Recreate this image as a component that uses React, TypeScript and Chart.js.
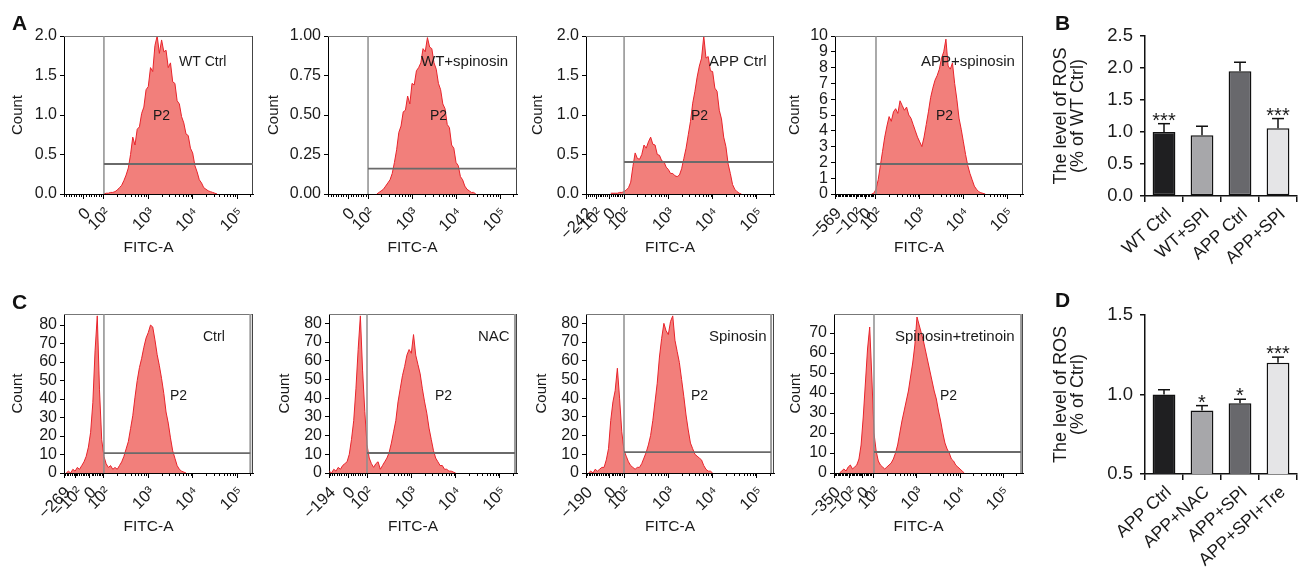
import React, { useEffect, useRef } from 'react';
import { Chart, registerables } from 'chart.js';

Chart.register(...registerables);

const FONT = "'Liberation Sans', Arial, Helvetica, sans-serif";
const TEXT = '#1a1a1a';

// FITC-A display units: 2 = 10², 3 = 10³, 4 = 10⁴, 5 = 10⁵ (bins of 0.05 unit)
const BIN = 0.05;
const GATE_X = 2;
const LOG_LABELS = ['10²', '10³', '10⁴', '10⁵'];
const LOG_TICKS = [2, 3, 4, 5];

// ---------- Panel A ----------
const A1_START = 2.0;
const A1_COUNTS = [0, 0.01, 0.01, 0.02, 0.02, 0.03, 0.05, 0.08, 0.11, 0.17, 0.24, 0.33, 0.5, 0.72, 0.62, 0.82, 0.85, 1.02, 1.1, 1.32, 1.36, 1.6, 1.55, 1.88, 2.0, 1.78, 1.95, 1.8, 1.82, 1.6, 1.66, 1.42, 1.4, 1.18, 1.14, 0.98, 0.9, 0.76, 0.74, 0.58, 0.52, 0.36, 0.28, 0.18, 0.14, 0.08, 0.06, 0.04, 0.03, 0.02, 0.01, 0];
const A1_TICKS = [1.55, ...LOG_TICKS];
const A1_TICK_LABELS = ['0', ...LOG_LABELS];

const A2_START = 2.2;
const A2_COUNTS = [0, 0.01, 0.02, 0.03, 0.05, 0.07, 0.09, 0.13, 0.2, 0.28, 0.39, 0.43, 0.52, 0.53, 0.62, 0.57, 0.7, 0.69, 0.78, 0.8, 0.83, 0.92, 0.9, 0.99, 0.93, 0.92, 0.83, 0.79, 0.7, 0.66, 0.57, 0.54, 0.44, 0.42, 0.31, 0.29, 0.2, 0.18, 0.11, 0.09, 0.05, 0.03, 0.02, 0.01, 0.01, 0];
const A2_TICKS = [1.55, ...LOG_TICKS];
const A2_TICK_LABELS = ['0', ...LOG_LABELS];

const A3_START = 1.7;
const A3_COUNTS = [0.01, 0.01, 0.01, 0.01, 0.02, 0.02, 0.03, 0.05, 0.08, 0.15, 0.35, 0.52, 0.45, 0.44, 0.5, 0.62, 0.58, 0.66, 0.72, 0.63, 0.62, 0.5, 0.49, 0.42, 0.41, 0.34, 0.31, 0.26, 0.26, 0.23, 0.22, 0.24, 0.32, 0.45, 0.58, 0.75, 0.92, 1.15, 1.3, 1.48, 1.62, 1.72, 2.0, 1.72, 1.74, 1.56, 1.55, 1.34, 1.3, 1.06, 0.95, 0.72, 0.6, 0.38, 0.26, 0.12, 0.06, 0.03, 0.01, 0];
const A3_TICKS = [1.14, 1.37, 1.66, ...LOG_TICKS];
const A3_TICK_LABELS = ['−242', '−10²', '0', ...LOG_LABELS];

const A4_START = 1.9;
const A4_COUNTS = [0, 0.05, 0.3, 0.9, 1.8, 2.7, 3.6, 4.3, 4.9, 4.6, 5.2, 5.4, 5.1, 5.9, 5.6, 5.3, 5.5, 5.0, 4.8, 4.4, 4.0, 3.6, 3.3, 3.0, 3.6, 4.4, 5.2, 6.1, 6.7, 7.2, 7.5, 7.9, 8.6, 9.0, 9.8, 8.1, 7.9, 8.3, 7.0, 6.0, 4.8, 4.1, 3.3, 2.5, 1.8, 1.3, 0.9, 0.5, 0.3, 0.15, 0.08, 0.04, 0];
const A4_TICKS = [1.062, 1.55, 1.75, ...LOG_TICKS];
const A4_TICK_LABELS = ['−569', '−10²', '0', ...LOG_LABELS];

// ---------- Panel C ----------
const C1_START = 1.15;
const C1_COUNTS = [0, 1, 0, 2, 1, 3, 2, 4, 6, 9, 14, 22, 38, 66, 85, 45, 18, 9, 5, 3, 4, 2, 3, 2, 4, 6, 9, 13, 17, 24, 31, 41, 50, 57, 62, 68, 73, 76, 80, 79, 72, 64, 58, 51, 43, 33, 27, 19, 12, 8, 4, 2, 1, 0.5, 0];
const C1_TICKS = [1.1, 1.37, 1.68, ...LOG_TICKS];
const C1_TICK_LABELS = ['−269', '−10²', '0', ...LOG_LABELS];

const C2_START = 1.15;
const C2_COUNTS = [1, 0, 2, 1, 3, 2, 4, 5, 6, 10, 18, 28, 45, 66, 84, 55, 33, 15, 8, 5, 3, 5, 6, 2, 4, 6, 8, 11, 16, 22, 28, 38, 45, 52, 57, 63, 66, 64, 74, 63, 58, 53, 45, 38, 32, 24, 18, 12, 8, 6, 4, 4, 2, 2, 1, 1, 0.5, 0];
const C2_TICKS = [1.142, 1.58, ...LOG_TICKS];
const C2_TICK_LABELS = ['−194', '0', ...LOG_LABELS];

const C3_START = 1.2;
const C3_COUNTS = [0, 1, 0, 2, 1, 2, 3, 3, 7, 13, 28, 38, 44, 56, 40, 22, 12, 9, 6, 4, 3, 2, 3, 3, 5, 8, 11, 15, 20, 28, 38, 48, 62, 72, 80, 76, 74, 81, 84, 71, 65, 59, 50, 41, 31, 23, 16, 13, 10, 9, 8, 7, 4, 2, 1, 1, 0];
const C3_TICKS = [1.142, 1.68, ...LOG_TICKS];
const C3_TICK_LABELS = ['−190', '0', ...LOG_LABELS];

const C4_START = 1.2;
const C4_COUNTS = [0, 1, 2, 1, 3, 4, 2, 3, 4, 7, 14, 28, 45, 62, 73, 48, 20, 11, 6, 4, 3, 2, 3, 4, 5, 7, 10, 14, 20, 26, 31, 36, 41, 48, 55, 64, 78, 74, 70, 66, 61, 56, 51, 46, 41, 37, 31, 26, 20, 15, 12, 10, 7, 6, 4, 3, 2, 1, 0];
const C4_TICKS = [1.07, 1.44, 1.74, ...LOG_TICKS];
const C4_TICK_LABELS = ['−350', '−10²', '0', ...LOG_LABELS];

// ---------- Panels B and D ----------
const B_LABELS = ['WT Ctrl', 'WT+SPI', 'APP Ctrl', 'APP+SPI'];
const B_VALUES = [1.0, 0.95, 1.95, 1.06];
const B_ERRORS = [0.13, 0.14, 0.14, 0.15];
const B_STARS = ['***', '', '', '***'];

const D_LABELS = ['APP Ctrl', 'APP+NAC', 'APP+SPI', 'APP+SPI+Tre'];
const D_VALUES = [1.0, 0.9, 0.945, 1.2];
const D_ERRORS = [0.03, 0.03, 0.025, 0.035];
const D_STARS = ['', '*', '*', '***'];

const BAR_COLORS = ['#1f1f21', '#a7a7aa', '#68686c', '#e5e5e7'];

type Box = { x: number; y: number; w: number; h: number };
type Area = { l: number; t: number; r: number; b: number };

type HistSpec = {
  canvas: Box;
  plot: Area;
  xMin: number;
  xMax: number;
  yMax: number;
  yStep: number;
  yDec: number;
  start: number;
  counts: number[];
  tickPos: number[];
  tickLabels: string[];
  zero: number;
  gateY: number;
  rightLine?: number;
  name: string;
  nameSize: number;
  nameAt: [number, number];
  p2At: [number, number];
};

const HISTS: HistSpec[] = [
  { canvas: { x: 9, y: 0, w: 251, h: 262 }, plot: { l: 64, t: 36, r: 253, b: 194 }, xMin: 1.1, xMax: 5.36, yMax: 2, yStep: 0.5, yDec: 1, start: A1_START, counts: A1_COUNTS, tickPos: A1_TICKS, tickLabels: A1_TICK_LABELS, zero: 1.55, gateY: 0.38, name: 'WT Ctrl', nameSize: 14, nameAt: [115, 26], p2At: [89, 80] },
  { canvas: { x: 265, y: 0, w: 260, h: 262 }, plot: { l: 328, t: 36, r: 517, b: 194 }, xMin: 1.09, xMax: 5.386, yMax: 1, yStep: 0.25, yDec: 2, start: A2_START, counts: A2_COUNTS, tickPos: A2_TICKS, tickLabels: A2_TICK_LABELS, zero: 1.55, gateY: 0.16, name: 'WT+spinosin', nameSize: 15, nameAt: [93, 26], p2At: [102, 80] },
  { canvas: { x: 529, y: 0, w: 251, h: 262 }, plot: { l: 586, t: 36, r: 774, b: 194 }, xMin: 1.14, xMax: 5.386, yMax: 2, yStep: 0.5, yDec: 1, start: A3_START, counts: A3_COUNTS, tickPos: A3_TICKS, tickLabels: A3_TICK_LABELS, zero: 1.66, gateY: 0.405, name: 'APP Ctrl', nameSize: 15, nameAt: [123, 26], p2At: [105, 80] },
  { canvas: { x: 786, y: 0, w: 244, h: 262 }, plot: { l: 835, t: 36, r: 1023, b: 194 }, xMin: 1.062, xMax: 5.364, yMax: 10, yStep: 1, yDec: 0, start: A4_START, counts: A4_COUNTS, tickPos: A4_TICKS, tickLabels: A4_TICK_LABELS, zero: 1.75, gateY: 1.9, name: 'APP+spinosin', nameSize: 15, nameAt: [86, 26], p2At: [101, 80] },
  { canvas: { x: 9, y: 280, w: 251, h: 260 }, plot: { l: 64, t: 314, r: 253, b: 473 }, xMin: 1.1, xMax: 5.36, yMax: 86, yStep: 10, yDec: 0, start: C1_START, counts: C1_COUNTS, tickPos: C1_TICKS, tickLabels: C1_TICK_LABELS, zero: 1.68, gateY: 10.8, rightLine: 5.3, name: 'Ctrl', nameSize: 14, nameAt: [139, 23], p2At: [106, 82] },
  { canvas: { x: 276, y: 280, w: 249, h: 260 }, plot: { l: 329, t: 314, r: 517, b: 473 }, xMin: 1.142, xMax: 5.386, yMax: 85, yStep: 10, yDec: 0, start: C2_START, counts: C2_COUNTS, tickPos: C2_TICKS, tickLabels: C2_TICK_LABELS, zero: 1.58, gateY: 10.7, rightLine: 5.34, name: 'NAC', nameSize: 15, nameAt: [149, 23], p2At: [106, 82] },
  { canvas: { x: 533, y: 280, w: 247, h: 260 }, plot: { l: 586, t: 314, r: 774, b: 473 }, xMin: 1.142, xMax: 5.386, yMax: 85, yStep: 10, yDec: 0, start: C3_START, counts: C3_COUNTS, tickPos: C3_TICKS, tickLabels: C3_TICK_LABELS, zero: 1.68, gateY: 11.2, rightLine: 5.32, name: 'Spinosin', nameSize: 15, nameAt: [123, 23], p2At: [105, 82] },
  { canvas: { x: 787, y: 280, w: 243, h: 260 }, plot: { l: 834, t: 314, r: 1023, b: 473 }, xMin: 1.07, xMax: 5.465, yMax: 79.5, yStep: 10, yDec: 0, start: C4_START, counts: C4_COUNTS, tickPos: C4_TICKS, tickLabels: C4_TICK_LABELS, zero: 1.74, gateY: 10.5, rightLine: 5.42, name: 'Spinosin+tretinoin', nameSize: 15, nameAt: [61, 23], p2At: [106, 82] },
];

type BarSpec = {
  canvas: Box;
  plot: Area;
  labels: string[];
  values: number[];
  errors: number[];
  stars: string[];
  yMin: number;
  yMax: number;
  yStep: number;
  title: string[];
};

const BARS: BarSpec[] = [
  { canvas: { x: 1053, y: 0, w: 250, h: 292 }, plot: { l: 1145, t: 36, r: 1297, b: 196 }, labels: B_LABELS, values: B_VALUES, errors: B_ERRORS, stars: B_STARS, yMin: 0, yMax: 2.5, yStep: 0.5, title: ['The level of ROS', '(% of WT Ctrl)'] },
  { canvas: { x: 1053, y: 290, w: 250, h: 289 }, plot: { l: 1145, t: 315, r: 1297, b: 474 }, labels: D_LABELS, values: D_VALUES, errors: D_ERRORS, stars: D_STARS, yMin: 0.5, yMax: 1.5, yStep: 0.5, title: ['The level of ROS', '(% of Ctrl)'] },
];

const LETTERS = [
  { t: 'A', x: 12, y: 12 },
  { t: 'B', x: 1055, y: 12 },
  { t: 'C', x: 12, y: 291 },
  { t: 'D', x: 1055, y: 289 },
];

function seg(ctx: CanvasRenderingContext2D, x1: number, y1: number, x2: number, y2: number) {
  ctx.beginPath();
  ctx.moveTo(x1, y1);
  ctx.lineTo(x2, y2);
  ctx.stroke();
}

function histPlugin(h: HistSpec) {
  return {
    id: 'histDecor',
    afterDatasetsDraw(chart: any) {
      const { ctx, chartArea: a, scales } = chart;
      const x = scales.x;
      const y = scales.y;
      ctx.save();
      ctx.strokeStyle = '#777';
      ctx.lineWidth = 1;
      seg(ctx, a.left, a.top + 0.5, a.right, a.top + 0.5);
      ctx.strokeStyle = '#444';
      seg(ctx, a.right - 0.5, a.top, a.right - 0.5, a.bottom);
      const gx = x.getPixelForValue(GATE_X);
      ctx.strokeStyle = '#8e8e8e';
      ctx.lineWidth = 1.5;
      seg(ctx, gx, a.top, gx, a.bottom);
      let ex = a.right;
      if (h.rightLine !== undefined) {
        ex = x.getPixelForValue(h.rightLine);
        ctx.strokeStyle = '#9a9a9a';
        ctx.lineWidth = 2;
        seg(ctx, ex, a.top, ex, a.bottom);
      }
      const gy = y.getPixelForValue(h.gateY);
      ctx.strokeStyle = '#6a6a6a';
      ctx.lineWidth = 1.8;
      seg(ctx, gx, gy, ex, gy);
      ctx.fillStyle = TEXT;
      ctx.textBaseline = 'middle';
      ctx.textAlign = 'left';
      ctx.font = `${h.nameSize}px ${FONT}`;
      ctx.fillText(h.name, a.left + h.nameAt[0], a.top + h.nameAt[1]);
      ctx.font = `14px ${FONT}`;
      ctx.fillText('P2', a.left + h.p2At[0], a.top + h.p2At[1]);
      ctx.restore();
    },
    afterDraw(chart: any) {
      const { ctx, chartArea: a, scales } = chart;
      const x = scales.x;
      ctx.save();
      ctx.strokeStyle = '#000';
      ctx.lineWidth = 1;
      const tick = (v: number) => {
        const px = Math.round(x.getPixelForValue(v)) + 0.5;
        if (px < a.left || px > a.right) return;
        seg(ctx, px, a.bottom, px, a.bottom + 3);
      };
      for (const d of LOG_TICKS) {
        for (let k = 2; k <= 9; k++) tick(d + Math.log10(k));
      }
      const st = (GATE_X - h.zero) / 8;
      for (let v = h.zero + st; v < GATE_X - 0.01; v += st) tick(v);
      for (let v = h.zero - st; v > h.xMin; v -= st) tick(v);
      ctx.fillStyle = TEXT;
      ctx.font = `15.5px ${FONT}`;
      ctx.textAlign = 'center';
      ctx.textBaseline = 'middle';
      ctx.fillText('FITC-A', (a.left + a.right) / 2 - 10, a.bottom + 53.5);
      ctx.restore();
    },
  };
}

function histConfig(h: HistSpec): any {
  const data = h.counts.map((c, i) => ({ x: +(h.start + i * BIN).toFixed(3), y: c }));
  return {
    type: 'line',
    data: {
      datasets: [
        {
          data,
          fill: 'origin',
          backgroundColor: 'rgba(236,60,55,0.66)',
          borderColor: '#e8232b',
          borderWidth: 1,
          pointRadius: 0,
          tension: 0,
        },
      ],
    },
    options: {
      responsive: false,
      animation: false,
      devicePixelRatio: 1,
      events: [],
      layout: { padding: { left: 0, bottom: 0, top: h.plot.t - h.canvas.y, right: h.canvas.x + h.canvas.w - h.plot.r } },
      plugins: { legend: { display: false }, tooltip: { enabled: false } },
      scales: {
        x: {
          type: 'linear',
          min: h.xMin,
          max: h.xMax,
          afterBuildTicks: (s: any) => {
            s.ticks = h.tickPos.map((v) => ({ value: v }));
          },
          ticks: {
            autoSkip: false,
            minRotation: 45,
            maxRotation: 45,
            padding: 5,
            labelOffset: 4,
            color: TEXT,
            font: { family: FONT, size: 16.5 },
            callback: (_v: any, i: number) => h.tickLabels[i],
          },
          grid: { drawOnChartArea: false, drawTicks: true, tickLength: 5, color: '#000' },
          border: { display: true, color: '#000', width: 1 },
          afterFit: (s: any) => {
            s.height = h.canvas.y + h.canvas.h - h.plot.b;
          },
        },
        y: {
          type: 'linear',
          min: 0,
          max: h.yMax,
          ticks: {
            stepSize: h.yStep,
            autoSkip: false,
            includeBounds: false,
            padding: 3,
            color: TEXT,
            font: { family: FONT, size: 16 },
            callback: (v: any) => Number(v).toFixed(h.yDec),
          },
          grid: { drawOnChartArea: false, drawTicks: true, tickLength: 4, color: '#000' },
          border: { display: true, color: '#000', width: 1 },
          title: { display: true, text: 'Count', color: TEXT, font: { family: FONT, size: 15 }, padding: 0 },
          afterFit: (s: any) => {
            s.width = h.plot.l - h.canvas.x;
          },
        },
      },
    },
    plugins: [histPlugin(h)],
  };
}

function barPlugin(b: BarSpec) {
  return {
    id: 'barDecor',
    afterDatasetsDraw(chart: any) {
      const { ctx, scales } = chart;
      const y = scales.y;
      const meta = chart.getDatasetMeta(0);
      ctx.save();
      ctx.strokeStyle = '#111';
      ctx.lineWidth = 1.5;
      ctx.fillStyle = TEXT;
      ctx.textAlign = 'center';
      ctx.textBaseline = 'alphabetic';
      ctx.font = `20px ${FONT}`;
      meta.data.forEach((bar: any, i: number) => {
        const top = y.getPixelForValue(b.values[i]);
        const cap = y.getPixelForValue(b.values[i] + b.errors[i]);
        seg(ctx, bar.x, top, bar.x, cap);
        seg(ctx, bar.x - 6, cap, bar.x + 6, cap);
        if (b.stars[i]) ctx.fillText(b.stars[i], bar.x, cap + 3);
      });
      ctx.restore();
    },
  };
}

function barConfig(b: BarSpec): any {
  return {
    type: 'bar',
    data: {
      labels: b.labels,
      datasets: [
        {
          data: b.values,
          backgroundColor: BAR_COLORS,
          borderColor: '#111',
          borderWidth: 1.5,
          borderSkipped: false,
          barPercentage: 0.6,
          categoryPercentage: 1,
        },
      ],
    },
    options: {
      responsive: false,
      animation: false,
      devicePixelRatio: 1,
      events: [],
      layout: { padding: { left: 0, bottom: 0, top: b.plot.t - b.canvas.y, right: b.canvas.x + b.canvas.w - b.plot.r } },
      plugins: { legend: { display: false }, tooltip: { enabled: false } },
      scales: {
        x: {
          ticks: {
            autoSkip: false,
            minRotation: 42,
            maxRotation: 42,
            padding: 2,
            labelOffset: 5,
            color: TEXT,
            font: { family: FONT, size: 17.5 },
          },
          grid: { display: true, offset: true, drawOnChartArea: false, drawTicks: true, tickLength: 6, color: '#111', lineWidth: 1.5 },
          border: { display: true, color: '#111', width: 1.5 },
          afterFit: (s: any) => {
            s.height = b.canvas.y + b.canvas.h - b.plot.b;
          },
        },
        y: {
          min: b.yMin,
          max: b.yMax,
          ticks: {
            stepSize: b.yStep,
            autoSkip: false,
            padding: 7,
            color: TEXT,
            font: { family: FONT, size: 18.5 },
            callback: (v: any) => Number(v).toFixed(1),
          },
          grid: { drawOnChartArea: false, drawTicks: true, tickLength: 5, color: '#111', lineWidth: 1.5 },
          border: { display: true, color: '#111', width: 1.5 },
          title: { display: true, text: b.title, color: TEXT, font: { family: FONT, size: 18, lineHeight: 0.92 }, padding: 0 },
          afterFit: (s: any) => {
            s.width = b.plot.l - b.canvas.x;
          },
        },
      },
    },
    plugins: [barPlugin(b)],
  };
}

function ChartBox({ box, make }: { box: Box; make: () => any }) {
  const ref = useRef<HTMLCanvasElement | null>(null);
  useEffect(() => {
    if (!ref.current) return;
    const chart = new Chart(ref.current, make());
    return () => chart.destroy();
  }, []);
  return (
    <canvas
      ref={ref}
      width={box.w}
      height={box.h}
      style={{ position: 'absolute', left: box.x, top: box.y, width: box.w, height: box.h }}
    />
  );
}

export default function App() {
  return (
    <div style={{ position: 'absolute', left: 0, top: 0, width: 1303, height: 579, background: '#fff', overflow: 'hidden' }}>
      {HISTS.map((h, i) => (
        <ChartBox key={'h' + i} box={h.canvas} make={() => histConfig(h)} />
      ))}
      {BARS.map((b, i) => (
        <ChartBox key={'b' + i} box={b.canvas} make={() => barConfig(b)} />
      ))}
      {LETTERS.map((l) => (
        <div
          key={l.t}
          style={{ position: 'absolute', left: l.x, top: l.y, font: `bold 21px ${FONT}`, lineHeight: '21px', color: '#111' }}
        >
          {l.t}
        </div>
      ))}
    </div>
  );
}
